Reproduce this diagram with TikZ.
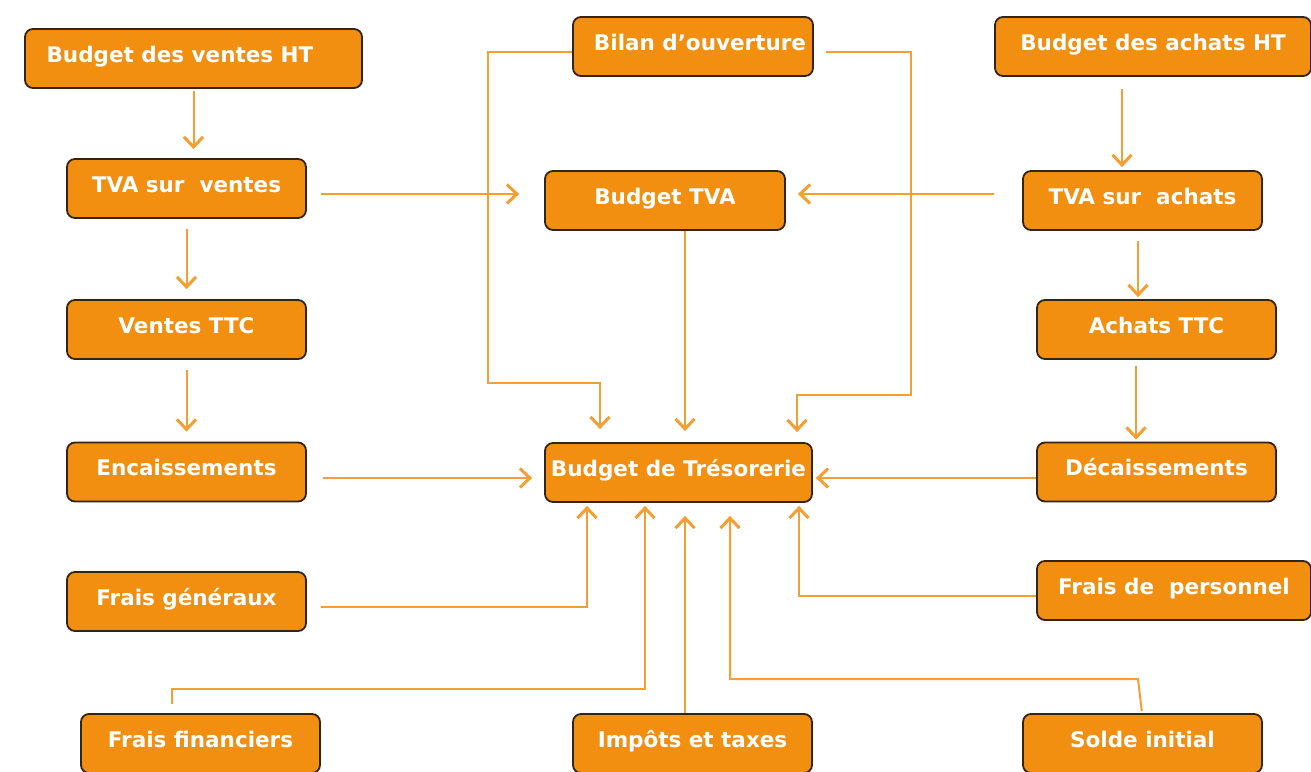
\documentclass[tikz,border=0pt]{standalone}
\usepackage{fontspec}
\setsansfont{DejaVu Sans}
\usetikzlibrary{arrows.meta}
\definecolor{boxfill}{RGB}{242,142,16}
\definecolor{boxline}{RGB}{52,36,20}
\definecolor{wire}{RGB}{245,158,52}
\tikzset{
  budgetbox/.style={draw=boxline, line width=1.8pt, fill=boxfill, rounded corners=8pt,
    inner sep=0pt, minimum height=59pt, minimum width=239pt, text=white,
    font=\sffamily\bfseries\fontsize{21.5}{24}\selectfont,
    text height=15pt, text depth=8pt},
  conn/.style={draw=wire, line width=2pt,
    -{Straight Barb[length=10pt,width=19pt,line width=3pt]}},
}
\begin{document}
\begin{tikzpicture}[x=1pt,y=-1pt]
\useasboundingbox (0,0) rectangle (1311,771);
\clip (0,0) rectangle (1311,771);
\fill[white] (0,0) rectangle (1311,771);

% left column: sales chain
\node[budgetbox, minimum width=337pt] (bvht) at (193.5,58.5) {Budget des ventes HT\hspace*{27pt}};
\node[budgetbox] (tvav) at (186.5,188.5) {TVA sur\ \ ventes};
\node[budgetbox] (vttc) at (186.5,329.5) {Ventes TTC};
\node[budgetbox] (enc)  at (186.5,472) {Encaissements};
\node[budgetbox] (fg)   at (186.5,601.5) {Frais généraux};
\node[budgetbox] (ff)   at (200.5,743.5) {Frais financiers};

% centre column
\node[budgetbox, minimum width=240pt] (bo)   at (693,46.5) {\hspace*{14pt}Bilan d'ouverture};
\node[budgetbox, minimum width=240pt] (btva) at (665,200.5) {Budget TVA};
\node[budgetbox, minimum width=267pt] (bt)   at (678.5,472.5) {Budget de Trésorerie};
\node[budgetbox] (it) at (692.5,743.5) {Impôts et taxes};

% right column: purchases chain
\node[budgetbox, minimum width=316pt] (bah) at (1153,46.5) {Budget des achats HT};
\node[budgetbox] (tvaa) at (1142.5,200.5) {TVA sur\ \ achats};
\node[budgetbox] (atc)  at (1156.5,329.5) {Achats TTC};
\node[budgetbox] (dec)  at (1156.5,472) {Décaissements};
\node[budgetbox, minimum width=274pt] (fp) at (1174,590.5) {Frais de\ \ personnel};
\node[budgetbox] (si)   at (1142.5,743.5) {Solde initial};

% sales chain
\draw[conn, shorten <=2pt, shorten >=9pt] (bvht.south) -- (bvht.south |- tvav.north);
\draw[conn, shorten <=10pt, shorten >=10pt] (tvav.south) -- (vttc.north);
\draw[conn, shorten <=10pt, shorten >=10pt] (vttc.south) -- (enc.north);

% purchases chain
\draw[conn, shorten <=12pt, shorten >=3pt] (bah.south -| 1122,0) -- (tvaa.north -| 1122,0);
\draw[conn, shorten <=10pt, shorten >=2pt] (tvaa.south -| 1138,0) -- (atc.north -| 1138,0);
\draw[conn, shorten <=6pt, shorten >=2pt] (atc.south -| 1136,0) -- (dec.north -| 1136,0);

% VAT flows
\draw[conn, shorten <=14pt, shorten >=25pt] (tvav.east |- 0,194) -- (btva.west |- 0,194);
\draw[conn, shorten <=28pt, shorten >=12pt] (tvaa.west |- 0,194) -- (btva.east |- 0,194);
\draw[conn, shorten >=11pt] (btva.south -| 685,0) -- (bt.north -| 685,0);

% opening balance sheet
\draw[conn, shorten >=13pt] (bo.west |- 0,52) -| (488,383) -| (bt.north -| 600,0);
\draw[conn, shorten <=12pt, shorten >=10pt] (bo.east |- 0,52) -| (911,395) -| (bt.north -| 797,0);

% receipts and disbursements
\draw[conn, shorten <=16pt, shorten >=12pt] (enc.east |- 0,478) -- (bt.west |- 0,478);
\draw[conn, shorten >=3pt] (dec.west |- 0,478) -- (bt.east |- 0,478);

% charges feeding the cash budget
\draw[conn, shorten <=14pt, shorten >=3pt] (fg.east |- 0,607) -| (bt.south -| 587,0);
\draw[conn, shorten <=9pt, shorten >=3pt] (ff.north -| 172,0) -- (172,689) -| (bt.south -| 645,0);
\draw[conn, shorten >=13pt] (it.north -| 685,0) -- (bt.south -| 685,0);
\draw[conn, shorten <=2pt, shorten >=13pt] (si.north -| 1142,0) -- (1138,679) -| (bt.south -| 730,0);
\draw[conn, shorten >=3pt] (fp.west |- 0,596) -| (bt.south -| 799,0);
\end{tikzpicture}
\end{document}
